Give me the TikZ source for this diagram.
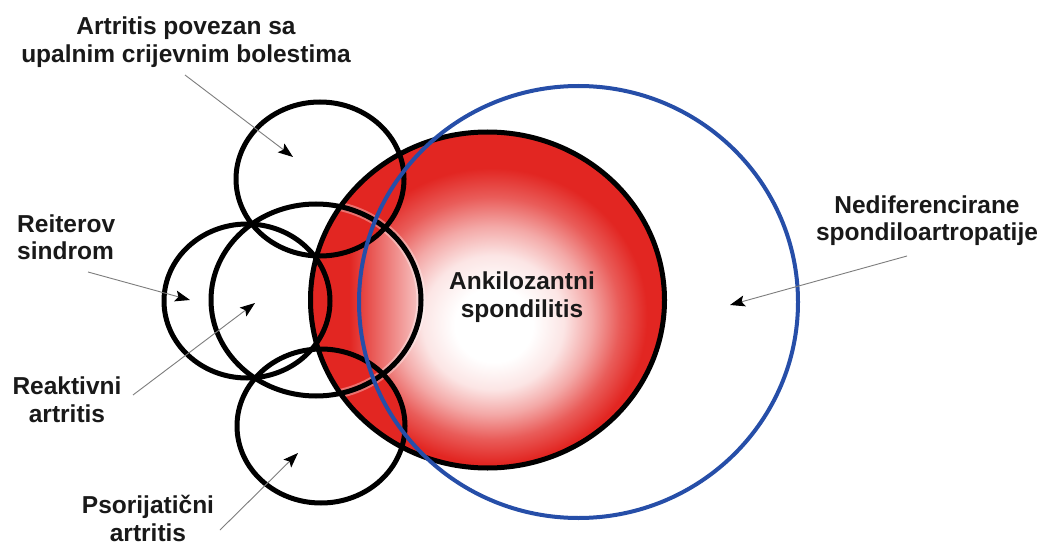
\documentclass[tikz,border=0pt]{standalone}
\usepackage{fontspec}
\setmainfont{Liberation Sans}
\usetikzlibrary{arrows.meta}
\definecolor{myred}{RGB}{226,38,34}
\definecolor{myblue}{RGB}{38,78,168}
\definecolor{leadgray}{RGB}{125,125,125}
\pgfdeclareradialshading{asglow}{\pgfpoint{1.0bp}{-4.2bp}}{color(0bp)=(white); color(5.5bp)=(white); color(10bp)=(myred!12!white); color(14bp)=(myred!40!white); color(18bp)=(myred!75!white); color(22bp)=(myred); color(50bp)=(myred)}
\pgfdeclarehorizontalshading{reakglow}{100bp}{color(0bp)=(myred); color(58bp)=(myred); color(74bp)=(myred!30!white); color(100bp)=(myred!30!white)}
\begin{document}
\begin{tikzpicture}[x=1pt,y=-1pt,
  ring/.style={draw=black,line width=5pt},
  lbl/.style={font=\fontsize{24.5}{28}\selectfont\bfseries, inner sep=0pt, text=black!90},
  ptr/.style={draw=leadgray,line width=0.9pt,-{Stealth[length=15pt,width=11pt,inset=3pt,color=black]}}]
\useasboundingbox (0,0) rectangle (1046,545);
\fill[white] (0,0) rectangle (1046,545);
\coordinate (cAS) at (487.5,300);
\coordinate (cU) at (578.5,302);
\coordinate (cIBD) at (320,179);
\coordinate (cRe) at (247,301);
\coordinate (cRA) at (316,300);
\coordinate (cPs) at (321,426);
% red disc with glow
\shade[shading=asglow] (cAS) ellipse [x radius=177pt, y radius=168pt];
\begin{scope}
  \clip (cAS) ellipse [x radius=177pt, y radius=168pt];
  \shade[shading=reakglow] (cRA) ellipse [x radius=105pt, y radius=96pt];
  \fill[myred] (cRe) ellipse [x radius=83pt, y radius=77pt];
  \fill[myred] (cIBD) ellipse [x radius=84pt, y radius=77pt];
  \fill[myred] (cPs) ellipse [x radius=84pt, y radius=77pt];
  \draw[white, opacity=0.35, line width=9pt] (cRA) ellipse [x radius=105pt, y radius=96pt];
\end{scope}
\draw[ring] (cAS) ellipse [x radius=177pt, y radius=168pt];
\draw[ring] (cIBD) ellipse [x radius=84pt, y radius=77pt];
\draw[ring] (cRe) ellipse [x radius=83pt, y radius=77pt];
\draw[ring] (cRA) ellipse [x radius=105pt, y radius=96pt];
\draw[ring] (cPs) ellipse [x radius=84pt, y radius=77pt];
\draw[myblue, line width=4pt] (cU) ellipse [x radius=219.5pt, y radius=216pt];
% labels
\node[lbl, align=center] (ibdlbl) at (186,43.4) {\strut Artritis povezan sa\\\strut upalnim crijevnim bolestima};
\node[lbl, align=left, anchor=west] (reilbl) at (17,240.4) {\strut Reiterov\\\strut sindrom};
\node[lbl, align=center] (reaklbl) at (67,403) {\strut Reaktivni\\\strut artritis};
\node[lbl, align=center] (psorlbl) at (148,518.2) {\strut Psorijatični\\artritis};
\node[lbl, align=center] (undiflbl) at (927,221.4) {\strut Nediferencirane\\\strut spondiloartropatije};
\node[lbl, align=center] (aslbl) at (522,297.9) {\strut Ankilozantni\\\strut spondilitis};
% arrows
\coordinate (sIBD) at (185,75);   \coordinate (tIBD) at (293,157);
\coordinate (sRe) at (88,272);    \coordinate (tRe) at (190,300);
\coordinate (sRA) at (133,395);   \coordinate (tRA) at (255,303);
\coordinate (sPs) at (220,530);   \coordinate (tPs) at (298,453);
\coordinate (sU) at (907,256);    \coordinate (tU) at (730,305);
\draw[ptr] (sIBD) -- (tIBD);
\draw[ptr] (sRe) -- (tRe);
\draw[ptr] (sRA) -- (tRA);
\draw[ptr] (sPs) -- (tPs);
\draw[ptr] (sU) -- (tU);
\end{tikzpicture}
\end{document}
